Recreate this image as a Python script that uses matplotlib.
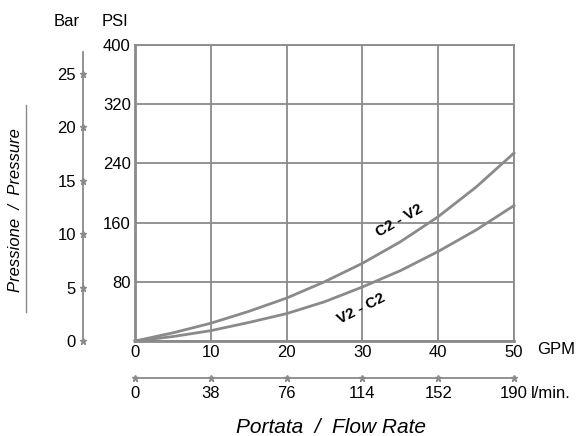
import matplotlib
matplotlib.use("Agg")
import matplotlib.pyplot as plt

plt.rcParams['font.family'] = ['Liberation Sans', 'DejaVu Sans']

# data
gpm = [0, 5, 10, 15, 20, 25, 30, 35, 40, 45, 50]
c2_v2 = [0, 11, 24, 40, 58, 80, 105, 134, 168, 208, 254]
v2_c2 = [0, 6, 14, 25, 37, 53, 73, 95, 121, 150, 183]
gpm_ticks = [0, 10, 20, 30, 40, 50]
psi_ticks = [80, 160, 240, 320, 400]
bar_ticks = [0, 5, 10, 15, 20, 25]
lmin_ticks = [0, 38, 76, 114, 152, 190]

W, H = 587, 436
grey = '#8a8a8a'
fs = 12

fig = plt.figure(figsize=(W / 100, H / 100), dpi=100)

# main plot, PSI vs GPM
ax = fig.add_axes([135 / W, (H - 341) / H, 379 / W, 296 / H])
ax.set_xlim(0, 50)
ax.set_ylim(0, 400)
ax.set_xticks(gpm_ticks)
ax.set_yticks([0] + psi_ticks)
ax.set_yticklabels([''] + [str(v) for v in psi_ticks])
ax.grid(True, color=grey, linewidth=1.3)
for s in ax.spines.values():
    s.set_color(grey)
    s.set_linewidth(1.3)
ax.spines['left'].set_linewidth(2)
ax.spines['bottom'].set_linewidth(2)
ax.tick_params(length=0, labelsize=fs, colors='black')
ax.tick_params(axis='x', pad=3)
ax.tick_params(axis='y', pad=3)
ax.plot(gpm, c2_v2, color=grey, linewidth=2, clip_on=False)
ax.plot(gpm, v2_c2, color=grey, linewidth=2, clip_on=False)
ax.text(34.9, 163, 'C2 - V2', rotation=30, fontsize=11, fontweight='bold',
        ha='center', va='center')
ax.text(29.8, 44, 'V2 - C2', rotation=27, fontsize=11, fontweight='bold',
        ha='center', va='center')
ax.text(55.5, -12, 'GPM', fontsize=fs, ha='center', va='center',
        clip_on=False)

# Bar axis on the left
axb = fig.add_axes([83 / W, (H - 341) / H, 0.0001, 289 / H])
axb.set_ylim(0, 289 / 53.5 * 5)
axb.set_xlim(-1, 1)
axb.set_xticks([])
axb.set_yticks(bar_ticks)
axb.tick_params(length=0, labelsize=fs, pad=5)
for k in ['top', 'right', 'bottom']:
    axb.spines[k].set_visible(False)
axb.spines['left'].set_color(grey)
axb.spines['left'].set_linewidth(1.3)
axb.spines['left'].set_position(('data', 0))
axb.plot([0] * len(bar_ticks), bar_ticks, '*', color=grey, markersize=5,
         clip_on=False)

# l/min axis at the bottom
axl = fig.add_axes([135 / W, (H - 378) / H, 379 / W, 0.0001])
axl.set_xlim(0, 190)
axl.set_ylim(-1, 1)
axl.set_yticks([])
axl.set_xticks(lmin_ticks)
axl.tick_params(length=0, labelsize=fs, pad=6)
for k in ['top', 'right', 'left']:
    axl.spines[k].set_visible(False)
axl.spines['bottom'].set_color(grey)
axl.spines['bottom'].set_linewidth(1.3)
axl.spines['bottom'].set_position(('data', 0))
axl.plot(lmin_ticks, [0] * len(lmin_ticks), '*', color=grey, markersize=5,
         clip_on=False)

# headings and axis titles
fig.text(67 / W, 1 - 21 / H, 'Bar', fontsize=fs, ha='center', va='center')
fig.text(115 / W, 1 - 21 / H, 'PSI', fontsize=fs, ha='center', va='center')
fig.text(551 / W, 1 - 393 / H, 'l/min.', fontsize=fs, ha='center',
         va='center')
fig.text(331 / W, 1 - 427 / H, 'Portata  /  Flow Rate', fontsize=15,
         style='italic', ha='center', va='center')
fig.text(16 / W, 1 - 210 / H, 'Pressione  /  Pressure', fontsize=12,
         style='italic', rotation=90, ha='center', va='center')
fig.add_artist(plt.Line2D([26 / W, 26 / W], [1 - 312 / H, 1 - 105 / H],
                          color=grey, linewidth=1))

fig.savefig('out.png', dpi=100)
